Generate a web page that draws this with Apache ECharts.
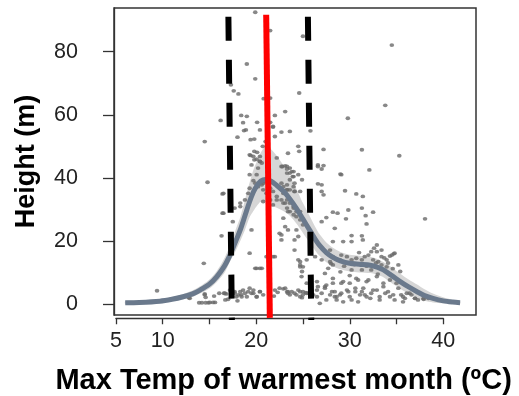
<!DOCTYPE html>
<html>
<head>
<meta charset="utf-8">
<script src="https://cdn.jsdelivr.net/npm/echarts@6/dist/echarts.min.js"></script>
<style>
html,body{margin:0;padding:0;background:#fff;}
#chart{width:519px;height:396px;}
</style>
</head>
<body>
<div id="chart"></div>
<script>
// ---- data ----
const yTickValues = [0, 20, 40, 60, 80];
const xTickValues = [5, 10, 15, 20, 25, 30, 35, 40];
const xLabelValues = [5, 10, 20, 30, 40];
const xTitle = 'Max Temp of warmest month (ºC)';
const yTitle = 'Height (m)';

// observed points [temp, height]
const scatterPoints = [
[19.9,92.5],[21.5,86.7],[25.0,84.9],[34.5,82.1],[19.0,76.1],[19.9,71.4],[17.3,69.5],[17.6,67.6],[18.1,66.6],[20.8,65.1],[21.5,65.3],[24.6,66.9],[23.1,61.0],[33.8,63.0],[16.2,58.2],[18.4,59.8],[19.0,59.5],[22.0,59.8],[29.8,58.9],[20.1,57.6],[21.5,57.6],[18.6,57.5],[21.8,56.1],[18.7,55.0],[18.9,55.2],[20.4,55.2],[21.8,56.3],[22.7,54.5],[23.6,54.7],[25.8,54.9],[18.0,52.9],[14.5,51.5],[19.4,52.1],[19.8,52.3],[22.0,53.1],[21.0,51.5],[20.7,50.0],[24.5,50.0],[24.6,48.4],[27.2,49.0],[31.3,48.9],[35.3,47.0],[20.1,48.1],[19.4,47.1],[19.8,45.7],[20.4,45.2],[23.1,43.8],[23.3,43.6],[26.6,43.6],[27.2,43.9],[27.0,42.8],[32.1,42.5],[29.0,41.2],
[19.3,47.3],[19.8,48.4],[20.05,45.9],[20.4,46.8],[20.6,44.7],[19.5,44.1],[20.2,43.1],[22.2,46.3],[23.4,47.8],[23.6,43.1],[24.0,42.0],[24.5,41.0],[24.9,39.4],[23.6,39.4],[24.1,38.3],[24.7,35.7],[24.1,35.7],[23.3,36.2],[19.9,38.3],[20.2,37.2],[20.6,37.8],[20.9,38.8],[20.75,36.2],[21.1,35.1],[21.5,36.7],[21.8,35.7],[22.2,34.1],[22.7,33.0],[23.1,32.0],[23.3,30.4],[23.6,29.3],[24.0,28.3],[24.7,29.3],[21.5,33.0],[20.75,32.5],[21.8,31.4],[16.5,35.1],[16.5,28.8],[17.7,30.4],[18.3,32.0],[18.8,33.0],[19.15,35.1],[19.3,36.7],[19.5,23.5],[19.3,16.1],[19.9,11.3],[20.4,11.3],[22.5,22.4],[22.7,20.3],[23.4,23.5],[24.3,23.5],[24.5,21.4],[24.1,20.3],[24.5,14.0],[24.7,11.8],[24.9,10.3],[25.4,14.0],[21.8,15.0],[26.3,15.0],[22.8,43.6],[23.3,42.8],[23.6,41.5],[23.9,40.4],[23.3,33.0],[23.6,32.0],[24.0,30.9],[24.3,29.3],[22.9,35.1],[23.3,36.2],[22.7,38.3],[23.3,37.8],[24.0,37.2],[19.7,39.1],[19.3,41.0],[14.8,38.6],[16.4,34.9],[16.4,28.8],[16.3,21.6],[14.4,12.9],[17.5,26.1],[18.3,30.9],[22.0,15.0],[21.1,15.0],
[9.4,4.2],[12.9,1.8],[13.7,3.9],[14.5,2.9],[14.6,2.1],[15.5,2.5],[13.9,0.4],[14.2,0.4],[14.6,0.4],[14.9,0.4],[15.4,0.5],[16.55,3.4],[12.8,2.0],[14.5,3.2],[16.05,3.4],[16.8,3.2],[16.7,1.3],[15.05,0.5],[15.6,0.5],
[17.4,4.4],[17.7,3.4],[17.9,2.3],[18.3,3.9],[18.4,2.9],[18.6,4.4],[19.0,2.3],[19.15,3.9],[19.5,3.4],[19.7,4.4],[20.05,2.3],[20.4,3.9],[20.75,2.9],[23.1,5.0],[23.4,3.4],[23.8,3.9],[24.3,2.9],[24.5,4.4],[22.9,4.8],[23.4,3.9],[17.0,1.5],[18.0,1.0],[21.9,2.5],[22.3,3.7],[24.9,2.0],[25.3,3.6],
[29.5,35.9],[30.7,34.9],[31.4,34.1],[29.85,29.8],[32.5,29.1],[28.2,29.1],[28.7,28.8],[27.5,27.4],[27.0,26.1],[29.6,27.0],[31.7,28.0],[31.8,25.4],[38.05,27.0],[30.2,21.7],[31.3,21.6],[29.3,19.8],[30.2,19.8],[32.9,18.7],[32.6,17.7],[33.4,17.1],[32.9,16.6],[34.7,15.9],[34.3,15.2],[27.9,17.1],[28.2,15.0],[26.6,44.1],[29.1,41.0],[26.6,38.1],[27.0,37.8],[27.0,35.7],[27.2,34.6],[31.3,30.4],[28.4,24.0],[31.4,20.3],[28.2,19.8],[27.0,14.0],[27.7,11.3],[27.35,9.7],[28.2,6.6],[29.1,6.6],[32.0,7.6],[30.9,7.6],[35.4,10.3],
[29.1,15.5],[29.7,15.0],[30.2,14.0],[30.7,14.5],[31.3,14.0],[31.6,15.0],[32.0,15.5],[32.5,14.0],[33.05,13.4],[33.4,12.4],[33.95,11.8],[30.2,10.8],[31.3,10.8],[32.3,10.8],[28.6,14.2],[29.4,12.0],[30.5,12.5],[31.0,16.3],[32.8,13.0],[33.7,14.6],[34.1,13.0],[29.0,10.2],[30.0,9.0],[33.0,9.5],[34.6,11.2],[35.2,12.4],[28.0,12.8],[32.3,16.6],[31.8,12.0],
[26.6,5.5],[27.35,5.5],[28.1,3.9],[28.4,2.3],[28.6,1.3],[28.96,2.9],[29.85,3.9],[30.6,5.0],[31.3,3.9],[31.6,2.9],[32.2,1.8],[32.5,4.4],[33.2,1.3],[33.8,3.4],[34.3,2.3],[34.8,1.3],[35.5,2.9],[35.7,0.7],[26.8,0.2],[27.5,1.3],[29.3,0.7],[30.2,1.3],[30.9,0.7],
[24.7,3.9],[25.0,2.9],[25.4,3.4],[25.9,4.4],[26.5,2.3],[27.0,3.4],[27.35,5.0],[27.9,2.9],[28.4,3.9],[28.6,2.3],[29.1,3.4],[29.7,4.4],[30.0,2.3],[30.6,3.9],[31.1,2.9],[31.45,5.0],[31.8,2.3],[32.3,3.4],[32.9,4.4],[33.2,2.3],[33.6,5.5],[34.1,3.9],[34.65,2.9],[35.2,5.0],[35.7,2.3],[36.4,3.4],[36.97,1.8],[37.3,1.3],[37.9,1.8],
[25.4,6.6],[26.5,7.1],[27.5,6.0],[28.2,8.1],[29.3,7.1],[30.0,6.6],[30.7,8.1],[31.8,7.1],[32.9,8.7],[33.6,6.6],[34.3,7.6],[35.0,6.6],
[24.7,13.4],[25.0,11.8],[24.85,8.7],[27.9,13.4],[28.2,12.4],[28.96,14.0],[33.4,15.0],[33.95,14.0],[34.5,15.5],[34.8,16.1],
[36.1,3.4],[36.6,2.9],[37.0,1.8],[37.9,1.5],[38.4,1.8],[35.9,1.8],
[16.65,3.4],[17.2,4.4],[17.7,3.9],[18.1,2.9],[18.45,2.3],[18.8,3.4],[19.3,5.0],[19.7,3.4],[20.05,2.3],[20.4,3.9],[22.0,4.4],[22.5,5.0],[23.3,3.9],[23.6,2.9],[24.1,3.4],[24.7,2.3],[25.0,3.9],[25.6,3.4],[26.1,2.9],[26.5,4.4],
[19.7,46.8],[20.4,45.2],[20.05,41.0],[20.75,38.3],[22.7,43.6],[23.3,41.5],[23.8,42.0],[24.0,40.4],[22.9,37.2],[23.6,36.2],[24.1,35.7],[22.2,33.0],[22.9,32.0],[23.4,29.3],[24.0,30.4],[24.3,27.7],[24.7,26.7],[25.0,25.1],[22.7,21.9],[24.1,17.1],[24.7,12.4],[20.05,11.3],[20.6,11.3],[22.9,27.2],[23.1,24.5]
];

// fitted smooth curve and its confidence band
const fitX     = [6.0, 7.5, 9.7, 11.0, 12.2, 13.2, 14.0, 15.0, 15.8, 16.6, 17.2, 17.8, 18.3, 18.8, 19.3, 19.7, 20.05, 20.5, 21.0, 21.6, 22.2, 22.9, 23.6, 24.3, 25.0, 25.7, 26.3, 26.8, 27.5, 28.2, 29.0, 30.0, 31.0, 32.2, 33.0, 33.6, 34.5, 35.4, 36.3, 37.2, 38.0, 38.9, 40.0, 41.0, 41.8];
const fitY     = [0.4, 0.5, 0.9, 1.5, 2.3, 3.2, 4.4, 6.3, 8.7, 12.0, 15.5, 19.8, 23.5, 28.0, 32.5, 35.5, 37.4, 39.0, 39.5, 38.9, 37.6, 35.8, 33.3, 30.3, 26.9, 23.5, 20.6, 18.5, 16.3, 14.8, 13.7, 12.9, 12.6, 12.3, 11.6, 10.8, 9.0, 7.1, 5.4, 3.9, 2.7, 1.8, 1.0, 0.6, 0.4];
const bandUpper= [0.9, 1.0, 1.4, 2.2, 3.2, 4.3, 5.6, 7.8, 10.5, 14.5, 18.5, 23.5, 27.5, 33.0, 38.5, 42.5, 45.0, 48.0, 50.0, 49.0, 47.0, 44.0, 40.5, 36.5, 32.0, 28.0, 24.5, 22.0, 19.5, 17.8, 16.5, 15.6, 15.3, 15.0, 14.2, 13.3, 11.6, 9.6, 7.8, 6.2, 4.7, 3.3, 2.1, 1.3, 0.9];
const bandLower= [0.0, 0.1, 0.4, 0.9, 1.5, 2.2, 3.3, 4.9, 7.0, 9.8, 13.5, 16.8, 20.0, 23.5, 27.5, 29.5, 31.0, 32.5, 32.5, 31.5, 30.5, 29.5, 28.0, 25.5, 22.5, 19.5, 17.0, 15.2, 13.2, 12.0, 11.0, 10.3, 10.0, 9.8, 9.2, 8.5, 6.6, 4.8, 3.2, 2.0, 1.0, 0.5, 0.2, 0.1, 0.0];

// reference lines (hand-drawn, slightly slanted): [top, bottom]
const redLine       = [[21.07, 91.7], [21.46, -4.4]];
const dashedLeft    = [[17.03, 91.1], [17.40, -5.1]];
const dashedRight   = [[25.53, 91.1], [25.89, -5.1]];

// ---- chart ----
const pairs = (xs, ys) => xs.map((x, i) => [x, ys[i]]);

const chart = echarts.init(document.getElementById('chart'), null, {renderer: 'canvas'});
const FONT = "'Liberation Sans', Arial, sans-serif";

chart.setOption({
  animation: false,
  grid: [
    {left: 114, top: 8, width: 362, height: 307, show: true, borderColor: '#333', borderWidth: 1.5, backgroundColor: 'transparent'},
    {left: 115.9, top: 318, width: 327.4, height: 1}
  ],
  xAxis: [
    {type: 'value', gridIndex: 0, min: 4.8, max: 43.5, show: false, splitLine: {show: false}},
    {type: 'value', gridIndex: 1, min: 5, max: 40, position: 'bottom',
     axisLine: {show: true, lineStyle: {color: '#333', width: 1.3}},
     axisTick: {show: true, length: 6, lineStyle: {color: '#333', width: 1.3}, customValues: xTickValues},
     axisLabel: {show: true, customValues: xLabelValues, margin: 12, fontSize: 21.5, color: '#222', fontFamily: FONT},
     splitLine: {show: false},
     name: xTitle, nameLocation: 'middle', nameGap: 48,
     nameTextStyle: {fontSize: 29, fontWeight: 'bold', color: '#000', fontFamily: FONT, padding: [0, 0, 0, 8]}}
  ],
  yAxis: [
    {type: 'value', gridIndex: 0, min: -3.49, max: 93.85,
     axisLine: {show: true, lineStyle: {color: '#333', width: 1.3}},
     axisTick: {show: true, length: 11, lineStyle: {color: '#333', width: 1.3}, customValues: yTickValues},
     axisLabel: {show: true, customValues: yTickValues, margin: 36, fontSize: 21.5, color: '#222', fontFamily: FONT},
     splitLine: {show: false},
     name: yTitle, nameLocation: 'middle', nameGap: 74, nameRotate: 90,
     nameTextStyle: {fontSize: 27, fontWeight: 'bold', color: '#000', fontFamily: FONT}},
    {type: 'value', gridIndex: 1, min: 0, max: 1, show: false}
  ],
  series: [
    {type: 'custom', name: 'band', xAxisIndex: 0, yAxisIndex: 0, silent: true, z: 1,
     data: [[fitX[0], bandLower[0]]],
     renderItem: function (params, api) {
       const pts = [];
       for (let i = 0; i < fitX.length; i++) pts.push(api.coord([fitX[i], bandUpper[i]]));
       for (let i = fitX.length - 1; i >= 0; i--) pts.push(api.coord([fitX[i], bandLower[i]]));
       return {type: 'polygon', shape: {points: pts, smooth: 0.25}, style: {fill: '#d6d6d6'}};
     }},
    {type: 'scatter', name: 'obs', xAxisIndex: 0, yAxisIndex: 0, data: scatterPoints,
     symbol: 'circle', symbolSize: [4.6, 3.8], itemStyle: {color: '#6a6a6a'}, z: 2},
    {type: 'line', name: 'fit', xAxisIndex: 0, yAxisIndex: 0, data: pairs(fitX, fitY),
     smooth: 0.3, symbol: 'none', lineStyle: {color: '#6a798c', width: 5}, z: 3},
    {type: 'line', name: 'left', data: dashedLeft, symbol: 'none', clip: false,
     lineStyle: {color: '#000', width: 6, type: [24, 19], cap: 'butt'}, z: 4},
    {type: 'line', name: 'right', data: dashedRight, symbol: 'none', clip: false,
     lineStyle: {color: '#000', width: 6, type: [24, 19], cap: 'butt'}, z: 4},
    {type: 'line', name: 'red', data: redLine, symbol: 'none', clip: false,
     lineStyle: {color: '#ff0000', width: 6, cap: 'butt'}, z: 5}
  ]
});
</script>
</body>
</html>
